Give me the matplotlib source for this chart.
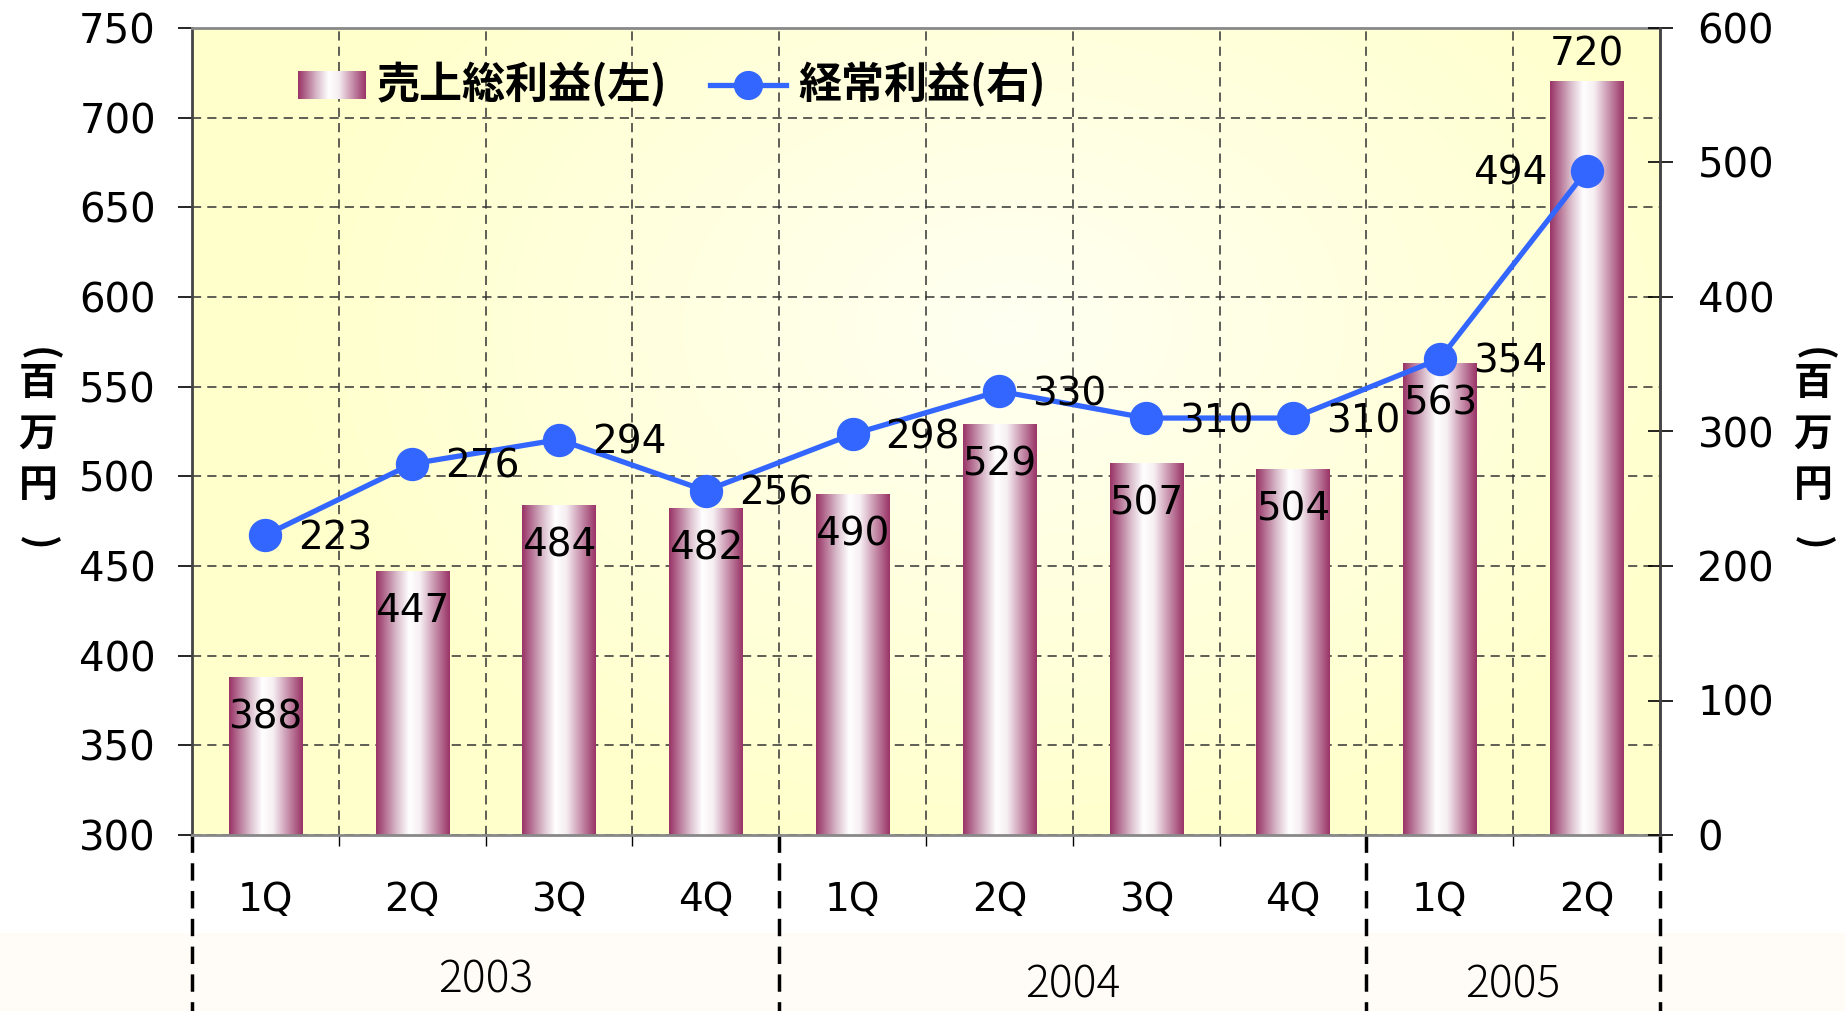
import numpy as np
import matplotlib
matplotlib.use("Agg")
from matplotlib import pyplot as plt
from matplotlib.colors import LinearSegmentedColormap
from matplotlib.lines import Line2D
from matplotlib.patches import Rectangle
import matplotlib.transforms as mtransforms

plt.rcParams["font.family"] = ["Noto Sans CJK JP", "DejaVu Sans"]

# Données du graphique
quarters = ["1Q", "2Q", "3Q", "4Q", "1Q", "2Q", "3Q", "4Q", "1Q", "2Q"]
years = ["2003", "2004", "2005"]
year_sizes = [4, 4, 2]
gross_profit = [388, 447, 484, 482, 490, 529, 507, 504, 563, 720]
ordinary_profit = [223, 276, 294, 256, 298, 330, 310, 310, 354, 494]
left_ticks = list(range(300, 751, 50))
right_ticks = list(range(0, 601, 100))
legend_labels = ["売上総利益(左)", "経常利益(右)"]
unit_chars = ["(", "百", "万", "円", ")"]

BLUE = "#3366FF"
NUM_FONT = "DejaVu Sans"
bar_cmap = LinearSegmentedColormap.from_list(
    "bar", [(0.0, "#993366"), (0.28, "#D9BCCB"), (0.45, "#FFFFFF"),
            (0.6, "#F6EEF2"), (1.0, "#993366")]
)


def radial_background(ax):
    """Fond jaune pâle avec un centre plus clair."""
    xs = np.linspace(0, 1, 300)
    ys = np.linspace(0, 1, 200)
    X, Y = np.meshgrid(xs, ys)
    r = np.sqrt(((X - 0.56) / 0.5) ** 2 + ((Y - 0.63) / 0.65) ** 2)
    r = np.clip(r, 0, 1)[..., None]
    center = np.array([1.0, 1.0, 0.95])
    edge = np.array([1.0, 1.0, 0.80])
    img = center * (1 - r) + edge * r
    ax.imshow(img, extent=(0, 1, 0, 1), transform=ax.transAxes,
              origin="lower", aspect="auto", zorder=0, interpolation="bicubic")


def vertical_unit(fig, xc):
    """Étiquette d'unité écrite verticalement : (百万円)."""
    ys = [354, 384, 434, 486, 543]
    for ch, y in zip(unit_chars, ys):
        rot = -90 if ch in "()" else 0
        fig.text(xc / 1845, 1 - y / 1011, ch, ha="center", va="center",
                 rotation=rot, fontsize=28, fontweight="bold")


def main():
    fig = plt.figure(figsize=(18.45, 10.11), dpi=100)
    fig.patches.append(Rectangle((0, 0), 1, 78 / 1011, transform=fig.transFigure,
                                 facecolor="#FFFCF7", edgecolor="none", zorder=-1))
    ax = fig.add_axes([192 / 1845, 176 / 1011, 1468 / 1845, 807 / 1011])
    ax2 = ax.twinx()

    radial_background(ax)

    x = np.arange(len(quarters))
    ymin = left_ticks[0]
    heights = np.array(gross_profit) - ymin
    bars = ax.bar(x, heights, bottom=ymin, width=0.5, facecolor="none",
                  edgecolor="none", zorder=2)
    grad = np.linspace(0, 1, 256).reshape(1, -1)
    for rect in bars:
        x0, w = rect.get_x(), rect.get_width()
        y0, h = rect.get_y(), rect.get_height()
        ax.imshow(grad, cmap=bar_cmap, extent=(x0, x0 + w, y0, y0 + h),
                  aspect="auto", zorder=2, interpolation="bicubic")

    ax.set_xlim(-0.5, len(quarters) - 0.5)
    ax.set_ylim(left_ticks[0], left_ticks[-1])
    ax2.set_ylim(right_ticks[0], right_ticks[-1])

    # Grille
    ax.set_axisbelow(True)
    ax.set_yticks(left_ticks)
    ax.set_xticks(x)
    ax.set_xticklabels([])
    ax.set_xticks(x[:-1] + 0.5, minor=True)
    ax.tick_params(axis="x", which="major", length=0)
    ax.tick_params(axis="x", which="minor", length=8, width=1, direction="out")
    ax.grid(True, axis="y", which="major", linestyle=(0, (6, 4)),
            color="#333333", linewidth=1.1)
    ax.grid(True, axis="x", which="minor", linestyle=(0, (6, 4)),
            color="#333333", linewidth=1.1)

    ax.tick_params(axis="y", length=10, width=1.2, direction="out",
                   pad=16, labelsize=29)
    ax2.set_yticks(right_ticks)
    ax2.tick_params(axis="y", length=18, width=1.2, direction="inout",
                    pad=18, labelsize=29)
    for lab in ax.get_yticklabels() + ax2.get_yticklabels():
        lab.set_family(NUM_FONT)

    for sp in ax.spines.values():
        sp.set_color("#888888")
        sp.set_linewidth(2)
    ax.spines["left"].set_color("#444444")
    for sp in ax2.spines.values():
        sp.set_visible(False)
    ax2.spines["right"].set_visible(True)
    ax2.spines["right"].set_color("#444444")
    ax2.spines["right"].set_linewidth(2)

    # Courbe du bénéfice ordinaire
    ax2.plot(x, ordinary_profit, color=BLUE, linewidth=3.8, marker="o",
             markersize=23, zorder=5, clip_on=False)

    # Étiquettes des barres
    for xi, v in zip(x, gross_profit):
        dy = 27 if v == max(gross_profit) else -40
        ax.annotate(str(v), (xi, v), xytext=(0, dy), textcoords="offset pixels",
                    ha="center", va="center", fontsize=28, family=NUM_FONT,
                    zorder=6)

    # Étiquettes de la courbe
    for xi, v in zip(x, ordinary_profit):
        dx = -76 if v == max(ordinary_profit) else 70
        ax2.annotate(str(v), (xi, v), xytext=(dx, -3), textcoords="offset pixels",
                     ha="center", va="center", fontsize=28, family=NUM_FONT,
                     zorder=6)

    # Axe des catégories : trimestres et années
    trans = mtransforms.blended_transform_factory(ax.transData, ax.transAxes)
    for xi, q in zip(x, quarters):
        ax.text(xi, -0.081, q, transform=trans, ha="center", va="center",
                fontsize=28, family=NUM_FONT)
    start = -0.5
    bounds = [start]
    for yr, n in zip(years, year_sizes):
        end = start + n
        yy = -0.180 if yr == years[0] else -0.186
        ax.text((start + end) / 2, yy, yr, transform=trans, ha="center",
                va="center", fontsize=32, fontweight="light")
        bounds.append(end)
        start = end
    for b in bounds:
        ax.add_line(Line2D([b, b], [0, -0.25], transform=trans, color="black",
                           linewidth=2.5, linestyle=(0, (5, 3)), clip_on=False))

    # Unités des axes
    vertical_unit(fig, 38)
    vertical_unit(fig, 1813)

    # Légende manuelle
    sw = fig.add_axes([298 / 1845, 1 - 99 / 1011, 68 / 1845, 28 / 1011])
    sw.imshow(grad, cmap=bar_cmap, aspect="auto", interpolation="bicubic")
    sw.set_axis_off()
    ly = 1 - 85 / 1011
    fig.text(377 / 1845, ly, legend_labels[0], ha="left", va="center",
             fontsize=31, fontweight="bold")
    fig.add_artist(Line2D([710 / 1845, 786 / 1845], [ly, ly],
                          transform=fig.transFigure, color=BLUE, linewidth=3.8))
    fig.add_artist(Line2D([748 / 1845], [ly], transform=fig.transFigure,
                          color=BLUE, marker="o", markersize=20))
    fig.text(798 / 1845, ly, legend_labels[1], ha="left", va="center",
             fontsize=31, fontweight="bold")

    fig.savefig("out.png", dpi=100)


if __name__ == "__main__":
    main()
